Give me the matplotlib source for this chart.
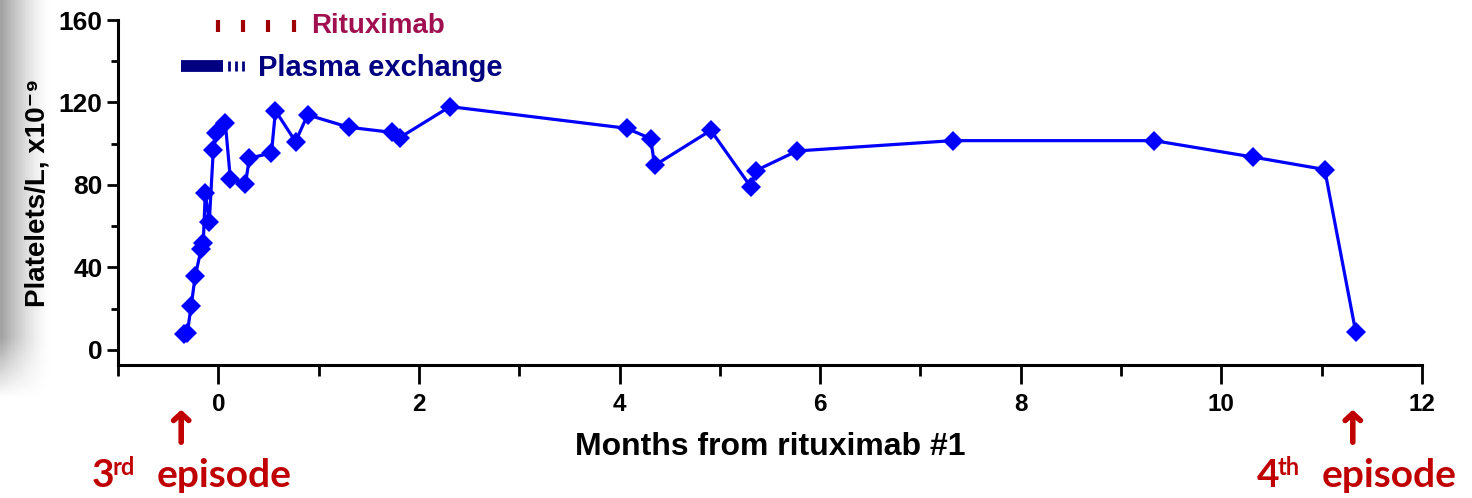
# -*- coding: utf-8 -*-
"""
Platelet count around rituximab #1
"""

import numpy as np
import matplotlib
matplotlib.use('Agg')
import matplotlib.pyplot as plt
from matplotlib.ticker import MultipleLocator

months = [-0.34, -0.31, -0.27, -0.23, -0.17, -0.15, -0.13, -0.09, -0.05, -0.02,
          0.07, 0.12, 0.27, 0.31, 0.53, 0.57, 0.77, 0.89, 1.30, 1.73, 1.81,
          2.31, 4.07, 4.31, 4.35, 4.91, 5.31, 5.36, 5.77, 7.32, 9.33, 10.32,
          11.03, 11.34]
platelets = [7.5, 8.0, 21.5, 36.0, 49.0, 52.0, 76.0, 62.0, 97.0, 105.0,
             110.0, 83.0, 80.5, 93.0, 95.5, 116.0, 101.0, 114.0, 108.0, 105.5, 103.0,
             118.0, 107.5, 102.5, 89.5, 106.5, 79.0, 87.0, 96.5, 101.5, 101.5, 93.5,
             87.5, 8.5]

rituximab_doses = [0.0, 0.25, 0.5, 0.75]
plex_daily = [-0.37, 0.05]
plex_extra = [0.11, 0.18, 0.25]

episode_month = [-0.37, 11.31]
episode_num = ['3', '4']
episode_sup = ['rd', 'th']

W, H = 1472, 498
fig = plt.figure(figsize=(W / 100, H / 100), dpi=100)

# grey shadow on the left edge of the slide
bg = fig.add_axes([0, 0, 1, 1], zorder=-10)
xx = np.linspace(0, W, 400)
yy = np.linspace(0, H, 200)
X, Y = np.meshgrid(xx, yy)
shade = np.clip(1 - X / 50.0, 0, 1) ** 1.5 * np.clip((Y - 100) / 60.0, 0, 1)
img = 1 - 0.36 * shade
bg.imshow(img, cmap='gray', vmin=0, vmax=1, extent=[0, W, 0, H], aspect='auto', origin='lower')
bg.axis('off')

ax = fig.add_axes([118 / W, 1 - 365 / H, (1422 - 118) / W, (365 - 20) / H])
ax.set_facecolor('none')

ax.plot(months, platelets, color='#0000ff', lw=2.3, marker='D', ms=10.5,
        markeredgewidth=0, zorder=3)

# treatment timeline
ax.vlines(rituximab_doses, 154, 160, color='#a00000', lw=3, clip_on=False)
ax.hlines(137.7, plex_daily[0], plex_daily[1], color='#000080', lw=8.5)
ax.vlines(plex_extra, 135.3, 140.0, color='#000080', lw=2)
ax.text(0.93, 157.0, 'Rituximab', color='#a01050', fontsize=20, fontweight='bold',
        family='Liberation Sans', va='center', ha='left')
ax.text(0.40, 136.5, 'Plasma exchange', color='#000080', fontsize=21, fontweight='bold',
        family='Liberation Sans', va='center', ha='left')

ax.set_xlim(-1, 12)
ax.set_ylim(-7.3, 160)
ax.xaxis.set_major_locator(MultipleLocator(2))
ax.xaxis.set_minor_locator(MultipleLocator(1))
ax.yaxis.set_major_locator(MultipleLocator(40))
ax.yaxis.set_minor_locator(MultipleLocator(20))

for s in ['top', 'right']:
    ax.spines[s].set_visible(False)
for s in ['left', 'bottom']:
    ax.spines[s].set_linewidth(2.2)

ax.tick_params(axis='x', which='major', length=14, width=2, pad=6, labelsize=17.5)
ax.tick_params(axis='x', which='minor', length=8, width=2)
ax.tick_params(axis='y', which='major', length=8, width=2, pad=3, labelsize=19)
ax.tick_params(axis='y', which='minor', length=5, width=2)
for lab in ax.get_xticklabels() + ax.get_yticklabels():
    lab.set_fontweight('bold')
    lab.set_family('Liberation Sans')

ax.set_xlabel('Months from rituximab #1', fontsize=23, fontweight='bold',
              family='Liberation Sans', labelpad=12)
ax.set_ylabel('Platelets/L, x10\u207b\u2079', fontsize=20, fontweight='bold',
              family=['Liberation Sans', 'DejaVu Sans'], labelpad=6)

# episode arrows and labels
for m, n, sup, x0 in zip(episode_month, episode_num, episode_sup, [92, 1257]):
    ax.annotate('', xy=(m, H - 407), xycoords=('data', 'figure pixels'),
                xytext=(m, H - 445), textcoords=('data', 'figure pixels'),
                arrowprops=dict(arrowstyle='->,head_length=0.5,head_width=0.55',
                                color='#c00000', lw=4))
    fig.text(x0 / W, 11 / H, n, color='#c00000', fontsize=28, fontweight='bold',
             family='Lato', ha='left', va='baseline')
    fig.text((x0 + 21) / W, 23 / H, sup, color='#c00000', fontsize=17, fontweight='bold',
             family='Lato', ha='left', va='baseline')
    fig.text((x0 + 65) / W, 11 / H, 'episode', color='#c00000', fontsize=28,
             fontweight='bold', family='Lato', ha='left', va='baseline')

fig.savefig('out.png', dpi=100)
